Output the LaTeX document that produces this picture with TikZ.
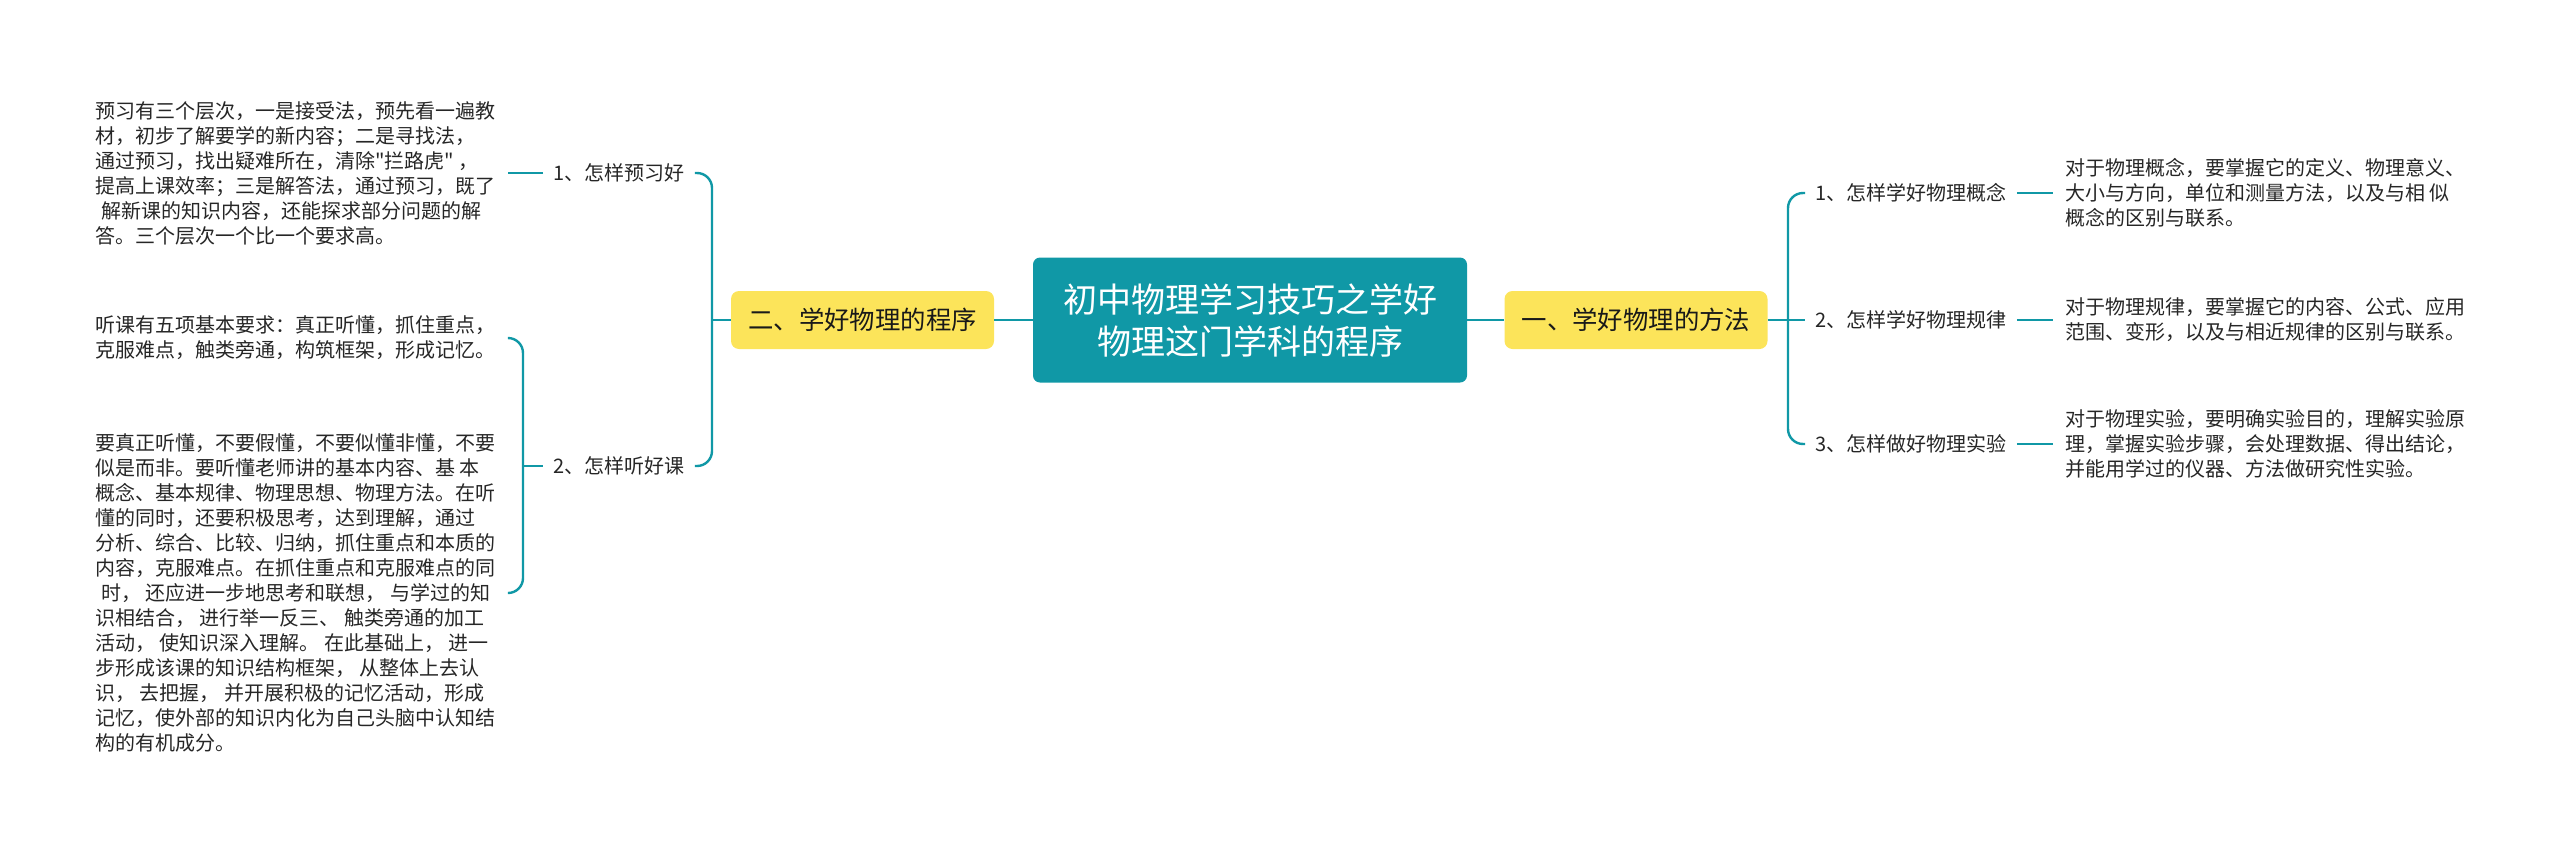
\documentclass[tikz,border=0pt]{standalone}
\usepackage{fontspec}
\setmainfont{Noto Sans CJK SC}[Ligatures=TeXOff]

\definecolor{mapteal}{RGB}{16,152,166}
\definecolor{mapyellow}{RGB}{252,228,90}

\tikzstyle{link} = [line width=1.2pt, draw=mapteal, rounded corners=7.5pt]
\tikzstyle{rootbox} = [fill=mapteal, text=white, rounded corners=3.5pt, minimum width=217pt, minimum height=62.5pt, align=center, font=\fontsize{17}{21}\selectfont]
\tikzstyle{topicbox} = [fill=mapyellow, text=black!90, rounded corners=4pt, minimum width=131.5pt, minimum height=29pt, font=\fontsize{12.7}{15}\selectfont]
\tikzstyle{subtopic} = [text=black!85, inner xsep=5pt, font=\fontsize{10}{12.5}\selectfont]
\tikzstyle{notetext} = [text=black!85, inner xsep=6pt, align=left, font=\fontsize{10}{12.5}\selectfont]

\begin{document}
\begin{tikzpicture}[x=0.5pt, y=-0.5pt]
    \useasboundingbox (0,0) rectangle (2560,857);

    % Root and main topics
    \node[rootbox] (root) at (1250,320) {初中物理学习技巧之学好\\物理这门学科的程序};
    \node[topicbox] (prog) at (862.5,320) {二、学好物理的程序};
    \node[topicbox] (meth) at (1636,320) {一、学好物理的方法};
    \draw[link] (root.west) -- (prog.east);
    \draw[link] (root.east) -- (meth.west);

    % Left branch
    \node[subtopic, anchor=west] (preview) at (543,173) {1、怎样预习好};
    \node[subtopic, anchor=west] (listen) at (543,466) {2、怎样听好课};
    \coordinate (proghub) at (712,320);
    \draw[link] (prog.west) -- (proghub);
    \draw[link] (preview.east) -| (proghub) |- (listen.east);

    \node[notetext, anchor=west] (prevnote) at (83,173) {预习有三个层次，一是接受法，预先看一遍教\\
        材，初步了解要学的新内容；二是寻找法，\\
        通过预习，找出疑难所在，清除"拦路虎" ，\\
        提高上课效率；三是解答法，通过预习，既了\\
        \hspace*{0.3em}解新课的知识内容，还能探求部分问题的解\\
        答。三个层次一个比一个要求高。};
    \draw[link] (preview.west) -- (prevnote.east);

    \node[notetext, anchor=west] (hearone) at (83,338) {听课有五项基本要求：真正听懂，抓住重点，\\
        克服难点，触类旁通，构筑框架，形成记忆。};
    \node[notetext, anchor=west] (heartwo) at (83,593) {要真正听懂，不要假懂，不要似懂非懂，不要\\
        似是而非。要听懂老师讲的基本内容、基 本\\
        概念、基本规律、物理思想、物理方法。在听\\
        懂的同时，还要积极思考，达到理解，通过\\
        分析、综合、比较、归纳，抓住重点和本质的\\
        内容，克服难点。在抓住重点和克服难点的同\\
        \hspace*{0.3em}时， 还应进一步地思考和联想， 与学过的知\\
        识相结合， 进行举一反三、 触类旁通的加工\\
        活动， 使知识深入理解。 在此基础上， 进一\\
        步形成该课的知识结构框架， 从整体上去认\\
        识， 去把握， 并开展积极的记忆活动，形成\\
        记忆，使外部的知识内化为自己头脑中认知结\\
        构的有机成分。};
    \coordinate (listenhub) at (523,466);
    \draw[link] (listenhub) -- (listen.west);
    \draw[link] (hearone.east) -| (listenhub) |- (heartwo.east);

    % Right branch
    \node[subtopic, anchor=west] (concept) at (1805,193) {1、怎样学好物理概念};
    \node[subtopic, anchor=west] (law) at (1805,320) {2、怎样学好物理规律};
    \node[subtopic, anchor=west] (exper) at (1805,444) {3、怎样做好物理实验};
    \coordinate (methhub) at (1788,320);
    \draw[link] (meth.east) -- (methhub);
    \draw[link] (concept.west) -| (methhub) |- (exper.west);
    \draw[link] (methhub) -- (law.west);

    \node[notetext, anchor=west] (conceptnote) at (2053,193) {对于物理概念，要掌握它的定义、物理意义、\\
        大小与方向，单位和测量方法，以及与相 似\\
        概念的区别与联系。};
    \node[notetext, anchor=west] (lawnote) at (2053,320) {对于物理规律，要掌握它的内容、公式、应用\\
        范围、变形，以及与相近规律的区别与联系。};
    \node[notetext, anchor=west] (expernote) at (2053,444) {对于物理实验，要明确实验目的，理解实验原\\
        理，掌握实验步骤，会处理数据、得出结论，\\
        并能用学过的仪器、方法做研究性实验。};
    \draw[link] (concept.east) -- (conceptnote.west);
    \draw[link] (law.east) -- (lawnote.west);
    \draw[link] (exper.east) -- (expernote.west);
\end{tikzpicture}
\end{document}
